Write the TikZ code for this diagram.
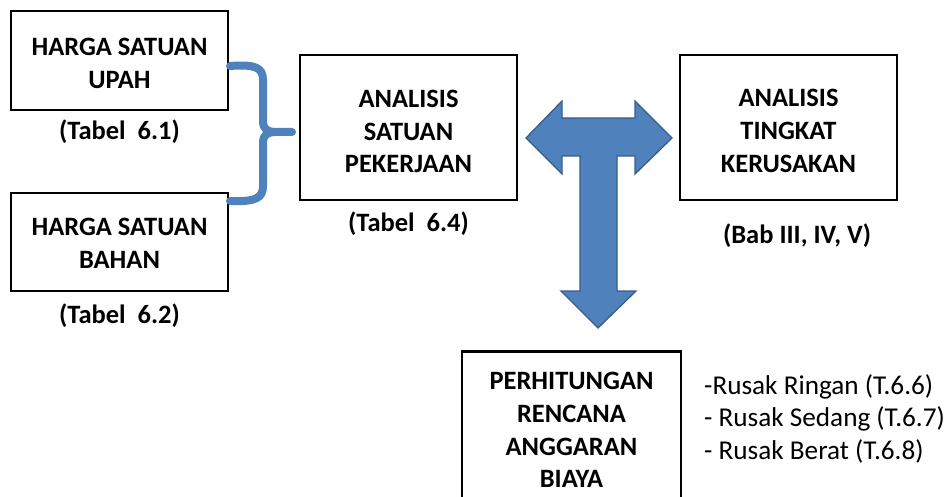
\documentclass[tikz,border=0pt]{standalone}
\usepackage{fontspec}
\setmainfont{Carlito}
\begin{document}
\begin{tikzpicture}[x=1pt,y=-1pt,
  box/.style={draw=black,line width=2.6pt,fill=white,inner sep=0pt},
  boxtext/.style={align=center,font=\fontsize{26.5}{32.8}\selectfont\bfseries,inner sep=0pt},
  captext/.style={font=\fontsize{26.5}{32.8}\selectfont\bfseries,inner sep=0pt},
  note/.style={font=\fontsize{27.2}{32.8}\selectfont,align=left,inner sep=0pt,anchor=north west},
  blueline/.style={draw={rgb,255:red,79;green,129;blue,189},line width=8pt,line cap=round},
  bluefill/.style={fill={rgb,255:red,79;green,129;blue,189},draw={rgb,255:red,56;green,93;blue,138},line width=1.3pt,line join=miter}]
\useasboundingbox (0,0) rectangle (947,497);
\clip (0,0) rectangle (947,497);

% boxes
\node[box,minimum width=217pt,minimum height=99pt] (upah) at (119.5,60.5) {};
\node[boxtext] (upahtxt) at ([yshift=-3pt]upah.center) {HARGA SATUAN\\UPAH};
\node[box,minimum width=217pt,minimum height=98pt] (bahan) at (119.5,242) {};
\node[boxtext] (bahantxt) at ([yshift=-1.5pt]bahan.center) {HARGA SATUAN\\BAHAN};
\node[box,minimum width=217pt,minimum height=145pt] (asp) at (408.5,127.5) {};
\node[boxtext] (asptxt) at ([yshift=-4pt]asp.center) {ANALISIS\\SATUAN\\PEKERJAAN};
\node[box,minimum width=217pt,minimum height=145pt] (atk) at (788.5,127.5) {};
\node[boxtext] (atktxt) at ([yshift=-3.5pt]atk.center) {ANALISIS\\TINGKAT\\KERUSAKAN};
\node[box,minimum width=219pt,minimum height=160pt,anchor=north] (rab) at (571.5,350) {};
\node[boxtext] (rabtxt) at (571.5,430) {PERHITUNGAN\\RENCANA\\ANGGARAN\\BIAYA};

% captions
\node[captext] (c1) at (119.5,132) {(Tabel\ \ 6.1)};
\node[captext] (c2) at (119.5,316) {(Tabel\ \ 6.2)};
\node[captext] (c4) at (408.5,224) {(Tabel\ \ 6.4)};
\node[captext] (c5) at (797,236) {(Bab III, IV, V)};

% damage categories
\node[note] (list) at (704,374) {-Rusak Ringan (T.6.6)\\- Rusak Sedang (T.6.7)\\- Rusak Berat (T.6.8)};

% curly brace joining the two price boxes
\draw[blueline] (230,66) .. controls (256,64) and (263,68) .. (263,80) -- (263,121)
  .. controls (263,129) and (267,132) .. (276,132) -- (292,132);
\draw[blueline] (230,201) .. controls (256,202) and (263,198) .. (263,186) -- (263,143)
  .. controls (263,135) and (267,132) .. (276,132);

% T-shaped three-way arrow
\path[bluefill] (526,138) -- (562,101) -- (562,118) -- (635,118) -- (635,101) -- (672,138)
  -- (635,174) -- (635,156) -- (617,156) -- (617,291) -- (636,291) -- (598,328)
  -- (561,291) -- (580,291) -- (580,156) -- (562,156) -- (562,174) -- cycle;
\end{tikzpicture}
\end{document}
